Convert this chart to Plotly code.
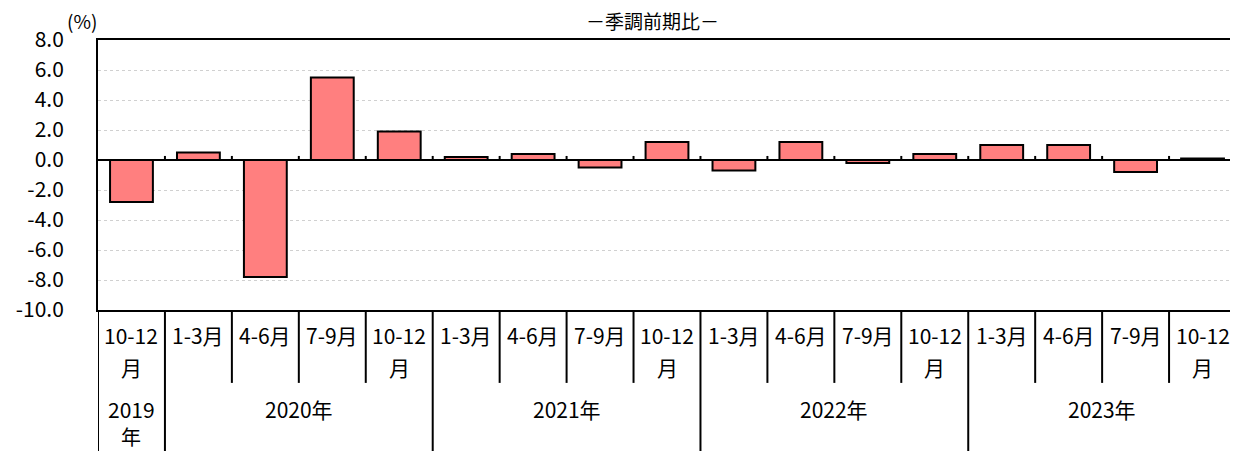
import plotly.graph_objects as go

quarter_line1 = ["10-12", "1-3月", "4-6月", "7-9月", "10-12",
                 "1-3月", "4-6月", "7-9月", "10-12",
                 "1-3月", "4-6月", "7-9月", "10-12",
                 "1-3月", "4-6月", "7-9月", "10-12"]
quarter_line2 = ["月", "", "", "", "月",
                 "", "", "", "月",
                 "", "", "", "月",
                 "", "", "", "月"]
year_line1 = ["2019", "2020年", "2021年", "2022年", "2023年"]
year_line2 = ["年", "", "", "", ""]
year_spans = [(0, 0), (1, 4), (5, 8), (9, 12), (13, 16)]
values = [-2.8, 0.5, -7.8, 5.5, 1.9,
          0.2, 0.4, -0.5, 1.2,
          -0.7, 1.2, -0.2, 0.4,
          1.0, 1.0, -0.8, 0.1]
yticks = [8, 6, 4, 2, 0, -2, -4, -6, -8, -10]

FONT = "Noto Sans CJK JP"
FS = 21
n = len(values)
xs = list(range(n))

fig = go.Figure()
fig.add_trace(go.Bar(
    x=xs, y=values, width=0.64,
    marker=dict(color="#FF7F7F", line=dict(color="black", width=2)),
    hoverinfo="y",
))

shapes = []
# zero line ticks at category boundaries
for i in range(1, n):
    shapes.append(dict(type="line", xref="x", yref="y", x0=i - 0.5, x1=i - 0.5,
                       y0=0, y1=0.27, line=dict(color="black", width=2)))
shapes.append(dict(type="line", xref="paper", yref="y", x0=0, x1=1, y0=0, y1=0,
                   line=dict(color="black", width=2)))
# table lines below
year_starts = set(s for s, e in year_spans)
for i in range(0, n + 1):
    bottom = -0.53 if (i in year_starts or i == n) else -0.27
    shapes.append(dict(type="line", xref="x", yref="paper", x0=i - 0.5, x1=i - 0.5,
                       y0=0, y1=bottom, line=dict(color="black", width=2)))

def txt(x, y, t, xref="x", size=FS):
    return dict(x=x, y=y, xref=xref, yref="paper", text=t, showarrow=False,
                yanchor="middle", font=dict(family=FONT, size=size, color="black"))

annotations = []
for i in range(n):
    annotations.append(txt(i, -0.0926, quarter_line1[i]))
    if quarter_line2[i]:
        annotations.append(txt(i, -0.211, quarter_line2[i]))
for (s, e), l1, l2 in zip(year_spans, year_line1, year_line2):
    annotations.append(txt((s + e) / 2, -0.367, l1))
    if l2:
        annotations.append(txt((s + e) / 2, -0.470, l2, size=20))
annotations.append(txt(0.487, 1.072, "－季調前期比－", xref="paper", size=19))
annotations.append(txt(-0.029, 1.072, "(%)", xref="paper", size=19))

fig.update_layout(
    width=1230, height=443,
    margin=dict(l=90, r=2, t=32, b=141, autoexpand=False),
    paper_bgcolor="white", plot_bgcolor="white",
    showlegend=False, bargap=0.36,
    shapes=shapes, annotations=annotations,
    xaxis=dict(range=[-0.5, n - 0.5], showticklabels=False, ticks="",
               showgrid=False, zeroline=False, showline=True, mirror=True,
               linecolor="black", linewidth=2, fixedrange=True),
    yaxis=dict(range=[-10, 8], tickvals=yticks, ticktext=[f"{v:.1f}" for v in yticks],
               ticks="", ticklabelstandoff=28,
               tickfont=dict(family=FONT, size=FS, color="black"),
               showgrid=True, gridcolor="#d0d0d0", griddash="dot", gridwidth=1,
               zeroline=False, showline=True, mirror=True,
               linecolor="black", linewidth=2, fixedrange=True),
)

fig.write_html("out.html")
